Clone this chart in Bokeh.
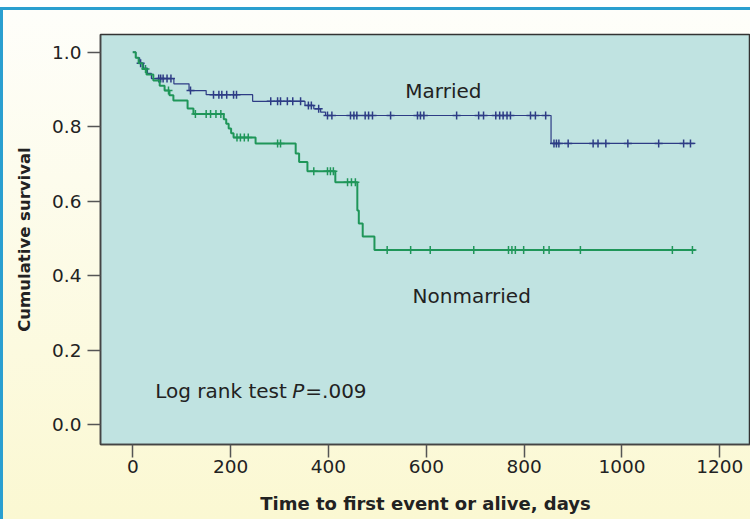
import numpy as np
from bokeh.plotting import figure
from bokeh.models import Label, FixedTicker
from bokeh.embed import file_html
from bokeh.resources import INLINE

# ---- data ----
married_time = [0, 6, 14, 22, 30, 38, 84, 115, 150, 245, 352, 370, 384, 394, 855]
married_surv = [1.0, 0.985, 0.97, 0.957, 0.943, 0.929, 0.915, 0.897, 0.886, 0.868,
                0.857, 0.848, 0.839, 0.830, 0.755]
married_censor = [16, 53, 57, 62, 70, 78, 118, 165, 176, 182, 192, 206, 212, 282, 296,
                  302, 316, 327, 343, 359, 365, 380, 398, 407, 445, 452, 458, 475, 482,
                  490, 527, 582, 588, 595, 662, 707, 717, 742, 750, 757, 765, 772, 813,
                  823, 844, 861, 866, 871, 890, 941, 951, 967, 1012, 1075, 1126, 1140]
nonmarried_time = [0, 6, 12, 20, 28, 42, 55, 65, 75, 83, 112, 124, 186, 191, 196, 201,
                   206, 251, 333, 340, 357, 414, 459, 462, 470, 494]
nonmarried_surv = [1.0, 0.985, 0.97, 0.955, 0.94, 0.924, 0.91, 0.897, 0.884, 0.870,
                   0.849, 0.834, 0.82, 0.808, 0.795, 0.782, 0.771, 0.755, 0.728, 0.705,
                   0.680, 0.651, 0.575, 0.540, 0.505, 0.469]
nonmarried_censor = [26, 73, 128, 150, 159, 170, 180, 213, 220, 228, 236, 296, 302, 370,
                     398, 404, 410, 439, 447, 455, 520, 568, 608, 697, 768, 775, 782, 799,
                     840, 851, 915, 1103, 1144]
end_time = 1150
x_ticks = [0, 200, 400, 600, 800, 1000, 1200]
y_ticks = [0.0, 0.2, 0.4, 0.6, 0.8, 1.0]

MARRIED_COLOR = "#2d3c85"
NONMARRIED_COLOR = "#1f9659"
FONT = "DejaVu Sans"

p = figure(width=750, height=519, output_backend="svg", toolbar_location=None,
           x_range=(-66, 1262.7), y_range=(-0.0537, 1.0475),
           min_border_left=100, min_border_right=0, min_border_top=34,
           min_border_bottom=75,
           styles={
               "background-image": (
                   "linear-gradient(to right, #2a9fd0 0px, #2a9fd0 3px, transparent 3px), "
                   "linear-gradient(to bottom, #ffffff 0px, #ffffff 7px, #2a9fd0 7px, "
                   "#2a9fd0 10px, #fefefa 10px, #fbf8d2 100%)"),
               "background-repeat": "no-repeat, no-repeat",
               "background-position": "0px 7px, 0px 0px",
               "background-size": "100% 100%, 100% 100%",
           })
p.border_fill_alpha = 0
p.background_fill_color = "#c0e3e1"
p.outline_line_color = "#333333"
p.outline_line_width = 1.5
p.grid.visible = False


def km_curve(times, survs, censors, color, lw):
    xs = list(times) + [end_time]
    ys = list(survs) + [survs[-1]]
    p.step(xs, ys, mode="after", line_color=color, line_width=lw)
    t = np.asarray(times)
    s = np.asarray(survs)
    idx = np.searchsorted(t, np.asarray(censors), side="right") - 1
    p.scatter(censors, s[idx], marker="cross", size=8, line_color=color,
              line_width=1.5)


km_curve(married_time, married_surv, married_censor, MARRIED_COLOR, 1.2)
km_curve(nonmarried_time, nonmarried_surv, nonmarried_censor, NONMARRIED_COLOR, 2.0)

for ax in (p.xaxis[0], p.yaxis[0]):
    ax.axis_line_color = "#444444"
    ax.axis_line_width = 1.5
    ax.major_tick_line_color = "#555555"
    ax.major_tick_line_width = 1.5
    ax.major_tick_out = 13
    ax.major_tick_in = 0
    ax.minor_tick_line_color = None
    ax.major_label_text_font = FONT
    ax.major_label_text_font_size = "18.5px"
    ax.major_label_text_color = "#222222"
    ax.axis_label_text_font = FONT
    ax.axis_label_text_font_style = "bold"
    ax.axis_label_text_color = "#222222"

p.xaxis.ticker = FixedTicker(ticks=x_ticks)
p.yaxis.ticker = FixedTicker(ticks=y_ticks)
p.yaxis.major_label_overrides = {v: f"{v:.1f}" for v in y_ticks}
p.xaxis.axis_label = "Time to first event or alive, days"
p.yaxis.axis_label = "Cumulative survival"
p.xaxis.axis_label_text_font_size = "18px"
p.yaxis.axis_label_text_font_size = "16.5px"
p.xaxis.major_label_standoff = 2
p.yaxis.major_label_standoff = 6
p.xaxis.axis_label_standoff = 17
p.yaxis.axis_label_standoff = 15

common = dict(text_font=FONT, text_font_size="20px", text_color="#222222",
              text_baseline="alphabetic", text_align="left")
p.add_layout(Label(x=557, y=0.895, text="Married", **common))
p.add_layout(Label(x=572, y=0.344, text="Nonmarried", **common))
p.add_layout(Label(x=46, y=0.091, text="Log rank test", **common))
p.add_layout(Label(x=46, y=0.091, x_offset=137, text="P", text_font_style="italic",
                   **common))
p.add_layout(Label(x=46, y=0.091, x_offset=150, text="=.009", **common))

open("out.html", "w").write(file_html(p, INLINE))
